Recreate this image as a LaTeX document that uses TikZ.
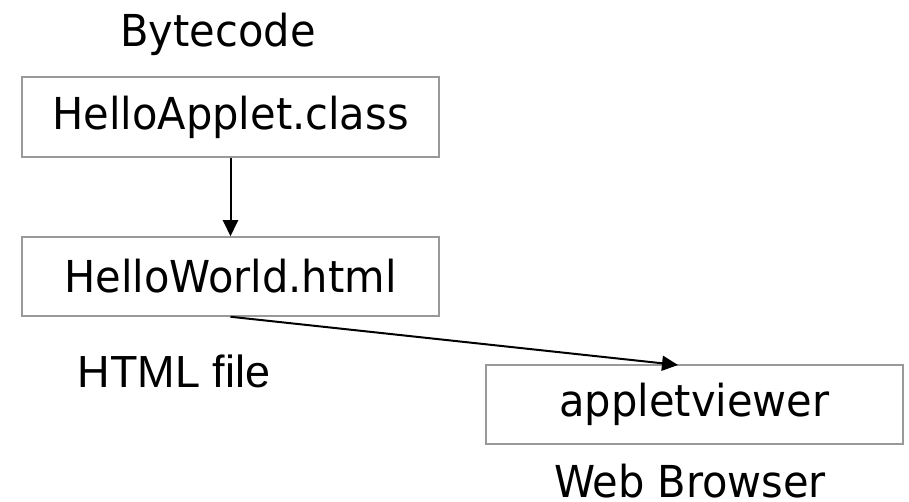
\documentclass[tikz,border=0pt]{standalone}
\usepackage{fontspec}
\setmainfont{DejaVu Sans}
\newfontfamily\boxfont[FakeStretch=1.05]{DejaVu Sans Condensed}
\newfontfamily\arialfont{Liberation Sans}
\usetikzlibrary{arrows.meta}
\begin{document}
\begin{tikzpicture}[x=1bp,y=-1bp,
  filebox/.style={draw=black!40, line width=1.5bp, minimum width=417bp, minimum height=79bp,
    inner sep=0pt, font=\boxfont\fontsize{44bp}{50bp}\selectfont},
  caption/.style={anchor=base, inner sep=0pt, font=\boxfont\fontsize{44bp}{50bp}\selectfont},
  flow/.style={draw=black, line width=2bp, -{Triangle[length=16bp,width=15bp]}}]
  \useasboundingbox (0,0) rectangle (909,502);

  % files and the viewer
  \node[filebox, minimum height=80bp] (cls) at (230.5,117) {HelloApplet.class};
  \node[filebox] (html) at (230.5,276.5) {HelloWorld.html};
  \node[filebox] (viewer) at (694.5,404.5) {appletviewer};

  % captions
  \node[caption] (bc) at (218,47) {Bytecode};
  \node[caption, font=\arialfont\fontsize{45bp}{50bp}\selectfont] (hf) at (174,387) {HTML file};
  \node[caption] (wb) at (690,497) {Web Browser};

  % flow
  \coordinate (tip) at (678,365);
  \draw[flow] (cls.south) -- (html.north);
  \draw[flow] (html.south) -- (tip);
\end{tikzpicture}
\end{document}
